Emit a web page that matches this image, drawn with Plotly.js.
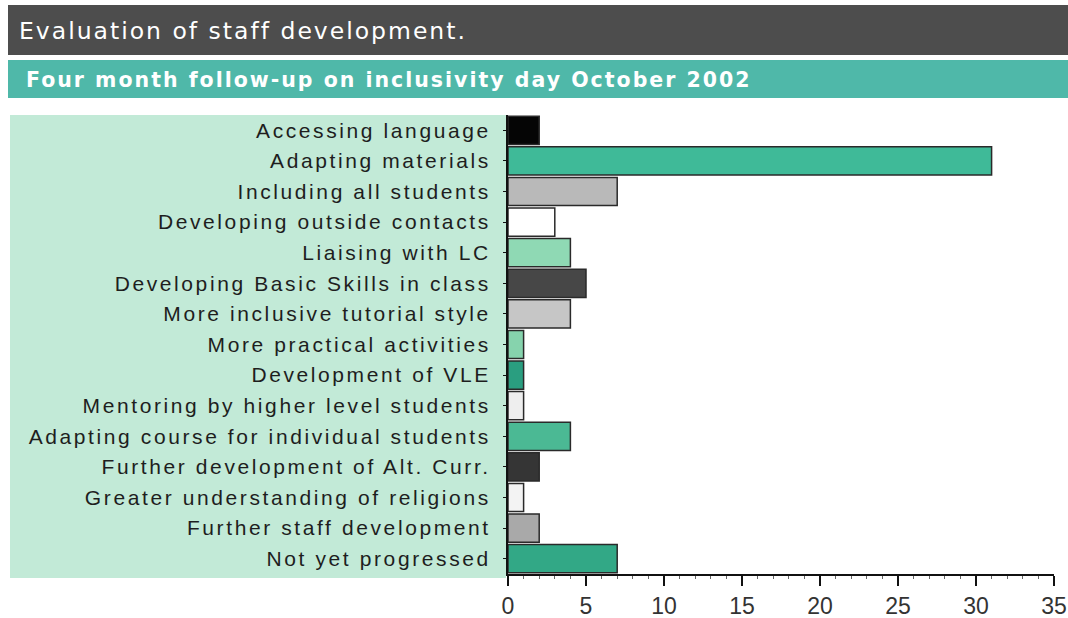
<!DOCTYPE html>
<html><head><meta charset="utf-8">
<script src="https://cdn.plot.ly/plotly-3.0.1.min.js"></script>
<style>
html,body{margin:0;padding:0;background:#fff;}
#chart{width:1068px;height:618px;}
#chart .ytick text{letter-spacing:2.6px;}
#chart .annotation-text{letter-spacing:2px;}
</style>
</head><body><div id="chart"></div>
<script>
const categories = [
  "Accessing language",
  "Adapting materials",
  "Including all students",
  "Developing outside contacts",
  "Liaising with LC",
  "Developing Basic Skills in class",
  "More inclusive tutorial style",
  "More practical activities",
  "Development of VLE",
  "Mentoring by higher level students",
  "Adapting course for individual students",
  "Further development of Alt. Curr.",
  "Greater understanding of religions",
  "Further staff development",
  "Not yet progressed"
];
const values = [2, 31, 7, 3, 4, 5, 4, 1, 1, 1, 4, 2, 1, 2, 7];
const barColors = ["#050505", "#3fba98", "#b9b9b9", "#ffffff", "#8fd9b4", "#474747", "#c6c6c6",
  "#86d3ad", "#2a9e80", "#eeeeee", "#4bb994", "#353535", "#f3f3f3", "#a9a9a9", "#32a886"];
const tickVals = [0, 5, 10, 15, 20, 25, 30, 35];
const mainTitle = "Evaluation of staff development.";
const subTitle = "Four month follow-up on inclusivity day October 2002";

const L = 508, R = 1054, T = 115, B = 574, W = 1068, H = 618;
const px = x => (x - L) / (R - L);
const py = y => (B - y) / (B - T);

const trace = {
  type: "bar", orientation: "h",
  y: categories, x: values,
  marker: { color: barColors, line: { color: "#2a2a2a", width: 1.5 } },
  width: 0.92,
  hoverinfo: "x+y"
};

const layout = {
  width: W, height: H,
  margin: { l: L, r: W - R, t: T, b: H - B, pad: 0 },
  paper_bgcolor: "#ffffff", plot_bgcolor: "rgba(0,0,0,0)",
  showlegend: false,
  font: { family: "Liberation Sans, Arial, sans-serif", color: "#222" },
  xaxis: {
    range: [0, 35], tickvals: tickVals, ticktext: tickVals.map(String),
    showgrid: false, zeroline: false,
    showline: true, linecolor: "#111", linewidth: 2,
    ticks: "outside", ticklen: 10, tickwidth: 2, tickcolor: "#111",
    minor: { dtick: 1, ticks: "outside", ticklen: 3, tickcolor: "#666", tickwidth: 1 },
    tickfont: { size: 23, color: "#333", family: "Liberation Sans, Arial, sans-serif" },
    fixedrange: true
  },
  yaxis: {
    type: "category", autorange: "reversed",
    showgrid: false, zeroline: false,
    showline: true, linecolor: "#111", linewidth: 2,
    ticks: "outside", ticklen: 3, tickcolor: "#111",
    tickfont: { size: 21, color: "#1e1e1e", family: "Liberation Sans, Arial, sans-serif" },
    ticklabelstandoff: 8,
    fixedrange: true
  },
  shapes: [
    { type: "rect", xref: "paper", yref: "paper", layer: "below",
      x0: px(10), x1: px(506), y0: py(578), y1: py(115),
      fillcolor: "#c2ead7", line: { width: 0 } },
    { type: "rect", xref: "paper", yref: "paper", layer: "below",
      x0: px(8), x1: px(1068), y0: py(55), y1: py(5),
      fillcolor: "#4d4d4d", line: { width: 0 } },
    { type: "rect", xref: "paper", yref: "paper", layer: "below",
      x0: px(8), x1: px(1068), y0: py(98), y1: py(60),
      fillcolor: "#4fb8a9", line: { width: 0 } }
  ],
  annotations: [
    { xref: "paper", yref: "paper", x: px(17), y: py(31), xanchor: "left", yanchor: "middle",
      width: 900, align: "left",
      text: mainTitle, showarrow: false,
      font: { family: "DejaVu Sans, sans-serif", size: 23.5, color: "#ffffff" } },
    { xref: "paper", yref: "paper", x: px(24), y: py(80), xanchor: "left", yanchor: "middle",
      width: 900, align: "left",
      text: "<b>" + subTitle + "</b>", showarrow: false,
      font: { family: "DejaVu Sans, sans-serif", size: 20.5, color: "#ffffff" } }
  ]
};

Plotly.newPlot("chart", [trace], layout, { displayModeBar: false, staticPlot: true });
</script>
</body></html>
